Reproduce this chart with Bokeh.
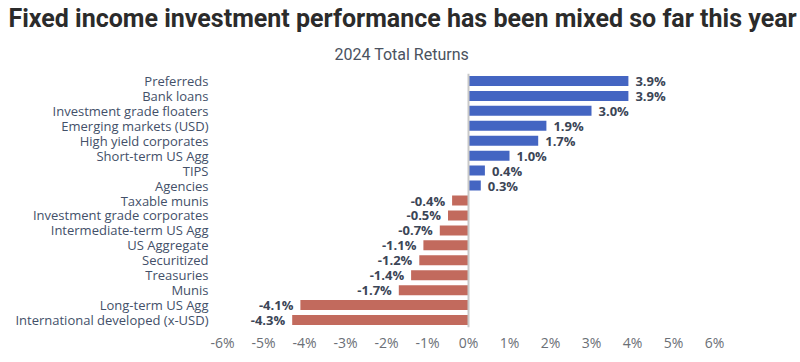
from bokeh.plotting import figure
from bokeh.models import ColumnDataSource, Span, Title, FixedTicker, CustomJSTickFormatter
from bokeh.embed import file_html
from bokeh.resources import INLINE
from bokeh.core.properties import value

categories = ["Preferreds", "Bank loans", "Investment grade floaters", "Emerging markets (USD)",
              "High yield corporates", "Short-term US Agg", "TIPS", "Agencies", "Taxable munis",
              "Investment grade corporates", "Intermediate-term US Agg", "US Aggregate",
              "Securitized", "Treasuries", "Munis", "Long-term US Agg",
              "International developed (x-USD)"]
returns = [3.9, 3.9, 3.0, 1.9, 1.7, 1.0, 0.4, 0.3, -0.4, -0.5, -0.7, -1.1, -1.2, -1.4, -1.7, -4.1, -4.3]
x_ticks = [-6, -5, -4, -3, -2, -1, 0, 1, 2, 3, 4, 5, 6]

POS = "#4465C2"
NEG = "#C26A5D"

colors = [POS if v >= 0 else NEG for v in returns]
labels = [f"{v:.1f}%" for v in returns]
align = ["left" if v >= 0 else "right" for v in returns]
offs = [7 if v >= 0 else -7 for v in returns]

src = ColumnDataSource(dict(cat=categories, val=returns, color=colors, label=labels,
                            align=align, off=offs))

p = figure(width=800, height=354, y_range=list(reversed(categories)), x_range=(-6, 6),
           output_backend="svg", toolbar_location=None,
           min_border_left=222, min_border_right=86, min_border_top=4, min_border_bottom=20)

p.add_layout(Title(text="2024 Total Returns", align="left", offset=112, text_font_size="16px",
                   text_font="Roboto", text_font_style="normal", text_color="#4a5260",
                   standoff=19), "above")
p.add_layout(Title(text="Fixed income investment performance has been mixed so far this year",
                   align="left", offset=-214, text_font_size="25px", text_font="Roboto",
                   text_font_style="bold", text_color="#2b2b2b", standoff=2), "above")

p.hbar(y="cat", right="val", left=0, height=0.67, color="color", source=src, line_color=None)
p.text(x="val", y="cat", text="label", text_align="align", x_offset="off",
       text_baseline="middle", text_font=value("Open Sans"), text_font_style="bold",
       text_font_size="13px", text_color="#3b4556", source=src)

p.add_layout(Span(location=0, dimension="height", line_color="#c8c8c8", line_width=2))

p.xaxis.ticker = FixedTicker(ticks=x_ticks)
p.xaxis.formatter = CustomJSTickFormatter(code="return tick + '%';")
p.xaxis.axis_line_color = None
p.xaxis.major_tick_line_color = None
p.xaxis.minor_tick_line_color = None
p.xaxis.major_tick_out = 0
p.xaxis.major_tick_in = 0
p.xaxis.minor_tick_out = 0
p.xaxis.major_label_standoff = 5
p.xaxis.major_label_text_font = "Open Sans"
p.xaxis.major_label_text_font_size = "14px"
p.xaxis.major_label_text_color = "#6b6f76"

p.yaxis.axis_line_color = None
p.yaxis.major_tick_line_color = None
p.yaxis.minor_tick_line_color = None
p.yaxis.major_tick_out = 0
p.yaxis.major_tick_in = 0
p.yaxis.minor_tick_out = 0
p.yaxis.major_label_standoff = 14
p.yaxis.major_label_text_font = "Open Sans"
p.yaxis.major_label_text_font_size = "13px"
p.yaxis.major_label_text_color = "#435069"

p.xgrid.grid_line_color = None
p.ygrid.grid_line_color = None
p.outline_line_color = None
p.y_range.range_padding = 0.0

open("out.html", "w").write(file_html(p, INLINE))
